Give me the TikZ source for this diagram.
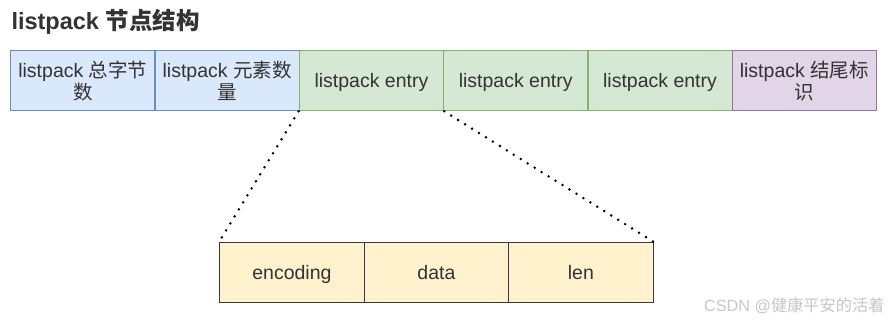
\documentclass[tikz,border=0pt]{standalone}
\usepackage{fontspec}
\setmainfont{Liberation Sans}
\newfontfamily\cjk{Noto Sans CJK SC}
\usetikzlibrary{positioning}
\definecolor{txt}{HTML}{333333}
\definecolor{bluef}{HTML}{DAE8FC}\definecolor{blued}{HTML}{6C8EBF}
\definecolor{greenf}{HTML}{D5E8D4}\definecolor{greend}{HTML}{82B366}
\definecolor{purpf}{HTML}{E1D5E7}\definecolor{purpd}{HTML}{9673A6}
\definecolor{yelf}{HTML}{FFF2CC}\definecolor{yeld}{HTML}{36393D}
\tikzset{
  cell/.style={minimum width=144.3pt, minimum height=60pt, inner sep=0pt, line width=1.3pt,
    text=txt, align=center, font=\fontsize{19.5}{22}\selectfont, anchor=north west},
  oneline/.style={text height=16pt, text depth=2pt},
  bluebox/.style={cell, fill=bluef, draw=blued},
  greenbox/.style={cell, oneline, fill=greenf, draw=greend},
  purpbox/.style={cell, fill=purpf, draw=purpd},
  yelbox/.style={cell, oneline, minimum width=144.5pt, fill=yelf, draw=yeld},
  dotline/.style={line width=2.8pt, line cap=round, dash pattern=on 0pt off 8.2pt}
}
\begin{document}
\begin{tikzpicture}[x=1pt,y=-1pt]
\useasboundingbox[fill=white] (0,0) rectangle (891,321);
\node[anchor=west, text=txt, font=\fontsize{23.5}{26}\selectfont\bfseries] (title) at (8,22) {listpack {\cjk 节点结构}};
\node[bluebox] (c1) at (10,50) {listpack {\cjk 总字节}\\{\cjk 数}};
\node[bluebox] (c2) at (154.3,50) {listpack {\cjk 元素数}\\{\cjk 量}};
\node[greenbox] (c3) at (298.6,50) {listpack entry};
\node[greenbox] (c4) at (442.9,50) {listpack entry};
\node[greenbox] (c5) at (587.2,50) {listpack entry};
\node[purpbox] (c6) at (731.5,50) {listpack {\cjk 结尾标}\\{\cjk 识}};
\node[yelbox] (e1) at (219,242) {encoding};
\node[yelbox] (e2) at (363.5,242) {data};
\node[yelbox] (e3) at (508,242) {len};
\draw[dotline] (c3.south west) -- (e1.north west);
\draw[dotline] (c3.south east) -- (e3.north east);
\node[anchor=east, text=black!22, font=\fontsize{16.2}{18}\selectfont] (wm) at (888,306) {CSDN @{\cjk 健康平安的活着}};
\end{tikzpicture}
\end{document}
